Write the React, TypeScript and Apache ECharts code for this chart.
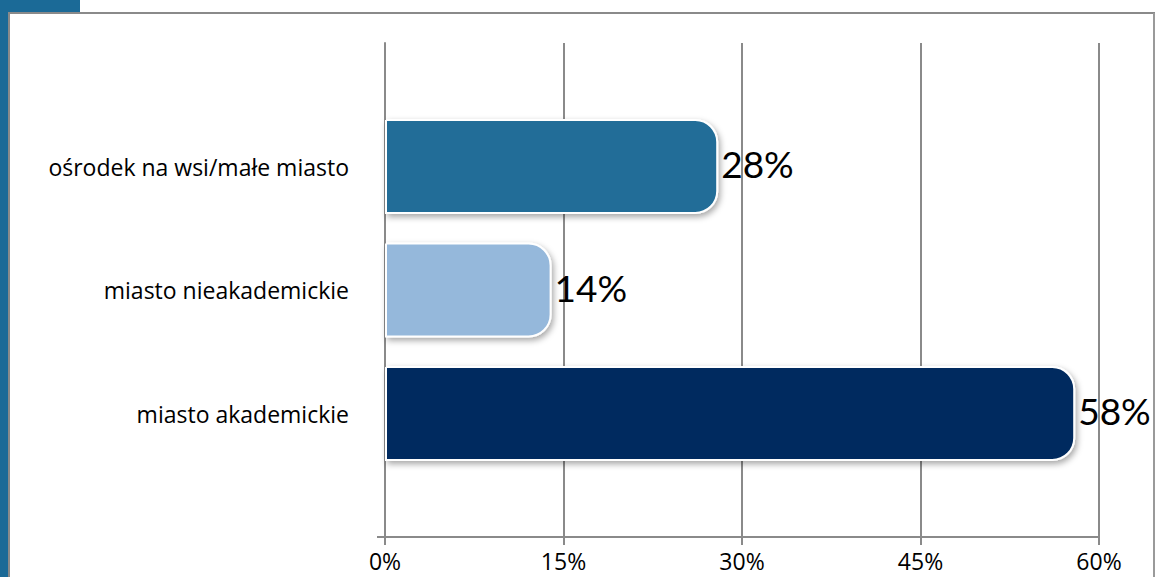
import React, { useEffect, useRef } from "react";
import * as echarts from "echarts";

const categories = ["", "miasto akademickie", "miasto nieakademickie", "ośrodek na wsi/małe miasto", ""];
const values = [null, 58, 14, 28, null];
const barColors = ["#ffffff", "#002b5f", "#95b8db", "#216d98", "#ffffff"];
const xTicks = [0, 15, 30, 45, 60];

export default function App() {
  const ref = useRef<HTMLDivElement>(null);
  useEffect(() => {
    const chart = echarts.init(ref.current!, null, { renderer: "svg" });
    const font = "Lato, 'Open Sans', sans-serif";
    const labelFont = "'Open Sans', 'Noto Sans', sans-serif";
    chart.setOption({
      animation: false,
      backgroundColor: "#ffffff",
      grid: { left: 385, right: 56, top: 43, bottom: 40, containLabel: false },
      xAxis: {
        type: "value",
        min: xTicks[0],
        max: xTicks[xTicks.length - 1],
        interval: 15,
        axisLine: { show: true, lineStyle: { color: "#8a8a8a", width: 2 } },
        axisTick: { show: true, length: 8, lineStyle: { color: "#8a8a8a", width: 2 } },
        splitLine: { show: true, lineStyle: { color: "#8a8a8a", width: 2 } },
        axisLabel: { formatter: "{value}%", color: "#000", fontSize: 23, fontFamily: labelFont, margin: 12 },
      },
      yAxis: {
        type: "category",
        data: categories,
        boundaryGap: false,
        axisLine: { show: true, onZero: false, lineStyle: { color: "#8a8a8a", width: 2 } },
        axisTick: {
          show: true,
          length: 8,
          interval: (idx: number) => idx === 0,
          lineStyle: { color: "#8a8a8a", width: 2 },
        },
        splitLine: { show: false },
        axisLabel: { color: "#000", fontSize: 23, fontFamily: labelFont, margin: 36 },
      },
      series: [
        {
          type: "bar",
          barWidth: 95,
          data: values.map((v, i) => ({
            value: v,
            itemStyle: {
              color: barColors[i],
              borderColor: "#ffffff",
              borderWidth: 2,
              borderRadius: [0, 22, 22, 0],
              shadowColor: "rgba(0,0,0,0.35)",
              shadowBlur: 6,
              shadowOffsetX: 2,
              shadowOffsetY: 3,
            },
          })),
          label: {
            show: true,
            position: "right",
            distance: 3,
            formatter: "{c}%",
            color: "#000",
            fontSize: 37,
            fontFamily: font,
            offset: [0, -3],
          },
        },
      ],
      graphic: [
        { type: "rect", z: -1, shape: { x: 0, y: 0, width: 80, height: 13 }, style: { fill: "#1b6a97" } },
        { type: "rect", z: -1, shape: { x: 0, y: 0, width: 8, height: 577 }, style: { fill: "#1b6a97" } },
        { type: "line", z: -1, shape: { x1: 8, y1: 13, x2: 1155, y2: 13 }, style: { stroke: "#8a8a8a", lineWidth: 2 } },
        { type: "line", z: -1, shape: { x1: 9, y1: 13, x2: 9, y2: 577 }, style: { stroke: "#8a8a8a", lineWidth: 2 } },
        { type: "line", z: -1, shape: { x1: 1154, y1: 13, x2: 1154, y2: 577 }, style: { stroke: "#9a9a9a", lineWidth: 2 } },
      ],
    });
    return () => chart.dispose();
  }, []);
  return <div ref={ref} style={{ position: "fixed", left: 0, top: 0, width: 1155, height: 577 }} />;
}
